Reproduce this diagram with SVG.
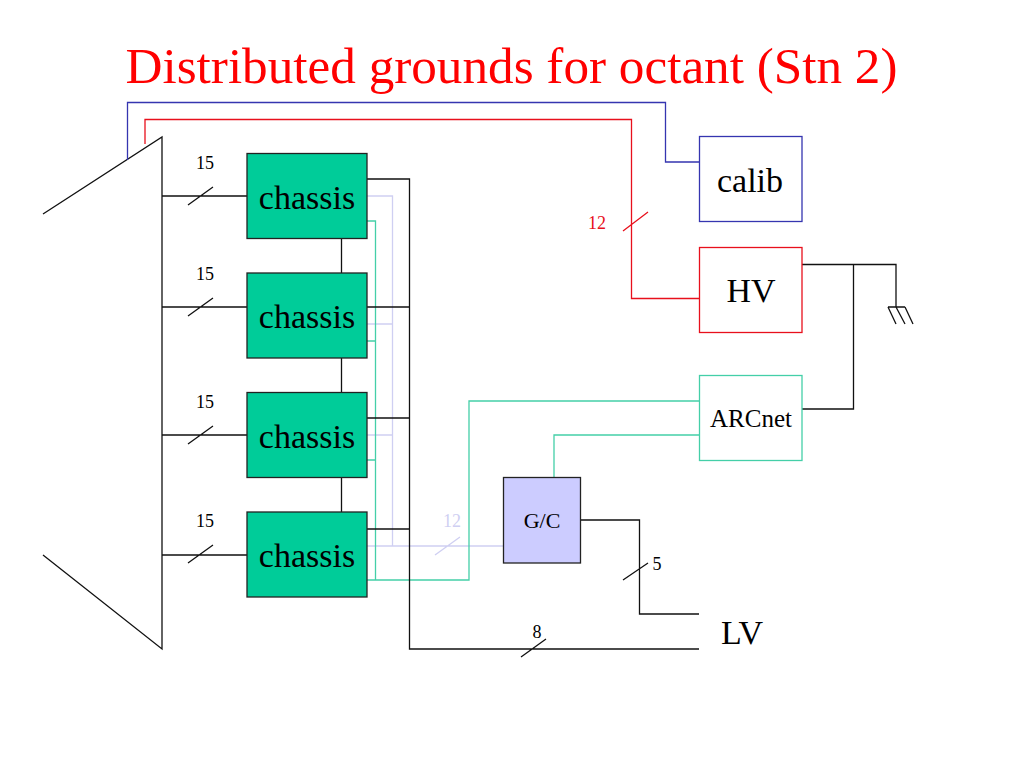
<svg xmlns="http://www.w3.org/2000/svg" width="1024" height="768" viewBox="0 0 1024 768">
<style>
text{font-family:"Liberation Serif","Times New Roman",serif;fill:#000}
.l{fill:none;stroke-width:1.300}
.k{stroke:#111}.t{stroke:#44cfa8}.v{stroke:#cfcff2}.b{stroke:#3535b0}.r{stroke:#e8101c}
.c{fill:#00cc99;stroke:#222;stroke-width:1.300}
.big{font-size:34px}.sm{font-size:18px}
</style>
<rect width="1024" height="768" fill="#fff"/>
<text x="511.500" y="83" text-anchor="middle" font-size="51.200" style="fill:#f00">Distributed grounds for octant (Stn 2)</text>
<g id="connectors">
<path class="l v" d="M367 196H392.500V546M367 324H392.500M367 435H392.500M367 546H503M435 555L460 537"/>
<path class="l t" d="M367 221H375.500V580M367 341H375.500M367 460H375.500M367 580H469V401H699M554 477V435H699"/>
<path class="l k" d="M367 179H409.500V649H699M367 307H409.500M367 418H409.500M367 529H409.500M521 657L546 639"/>
<path class="l k" d="M341.500 238V273M341.500 358V392M341.500 477V512"/>
<path class="l k" d="M43 214L162 137V649L43 555"/>
<path class="l k" d="M162 196H247M162 307H247M162 435H247M162 555H247M188 205L213 187M188 316L213 298M188 444L213 426M188 563L213 545"/>
<path class="l b" d="M127.500 160V102.500H665.500V162H699"/>
<path class="l r" d="M145 144V119.500H631.500V298.500H699M623 231L648 212"/>
<path class="l k" d="M802 264.500H896V307M853.500 264.500V409H802"/>
<path class="l k" d="M888 307H905M888 307L896 324M896 307L905 324M905 307L913 324"/>
<path class="l k" d="M580 520H639.500V614H699M623 580L648 563"/>
</g>
<g id="chassis1"><rect class="c" x="247" y="153.500" width="120" height="85"/><text class="big" x="307" y="209" text-anchor="middle">chassis</text></g>
<g id="chassis2"><rect class="c" x="247" y="273" width="120" height="85"/><text class="big" x="307" y="328" text-anchor="middle">chassis</text></g>
<g id="chassis3"><rect class="c" x="247" y="392.500" width="120" height="85"/><text class="big" x="307" y="448" text-anchor="middle">chassis</text></g>
<g id="chassis4"><rect class="c" x="247" y="512" width="120" height="85"/><text class="big" x="307" y="567" text-anchor="middle">chassis</text></g>
<g id="calib"><rect x="699.500" y="136.500" width="102.500" height="85" fill="#fff" stroke="#3535b0" stroke-width="1.300"/><text class="big" x="750" y="192" text-anchor="middle">calib</text></g>
<g id="hv"><rect x="699.500" y="247.500" width="102.500" height="85" fill="#fff" stroke="#e8101c" stroke-width="1.300"/><text class="big" x="751" y="302" text-anchor="middle">HV</text></g>
<g id="arcnet"><rect x="699.500" y="375.500" width="102.500" height="85" fill="#fff" stroke="#44cfa8" stroke-width="1.300"/><text x="751" y="427" font-size="25" text-anchor="middle">ARCnet</text></g>
<g id="gc"><rect x="503.500" y="477.500" width="77" height="85.500" fill="#ccccff" stroke="#222" stroke-width="1.300"/><text x="542" y="528" font-size="22" text-anchor="middle">G/C</text></g>
<g id="lv"><text class="big" x="742" y="644" text-anchor="middle">LV</text></g>
<g id="labels">
<text class="sm" x="205" y="169" text-anchor="middle">15</text>
<text class="sm" x="205" y="280" text-anchor="middle">15</text>
<text class="sm" x="205" y="408" text-anchor="middle">15</text>
<text class="sm" x="205" y="527" text-anchor="middle">15</text>
<text class="sm" x="597" y="229" text-anchor="middle" style="fill:#e8101c">12</text>
<text class="sm" x="452" y="527" text-anchor="middle" style="fill:#cfcff2">12</text>
<text class="sm" x="657" y="570" text-anchor="middle">5</text>
<text class="sm" x="537" y="638" text-anchor="middle">8</text>
</g>
</svg>
